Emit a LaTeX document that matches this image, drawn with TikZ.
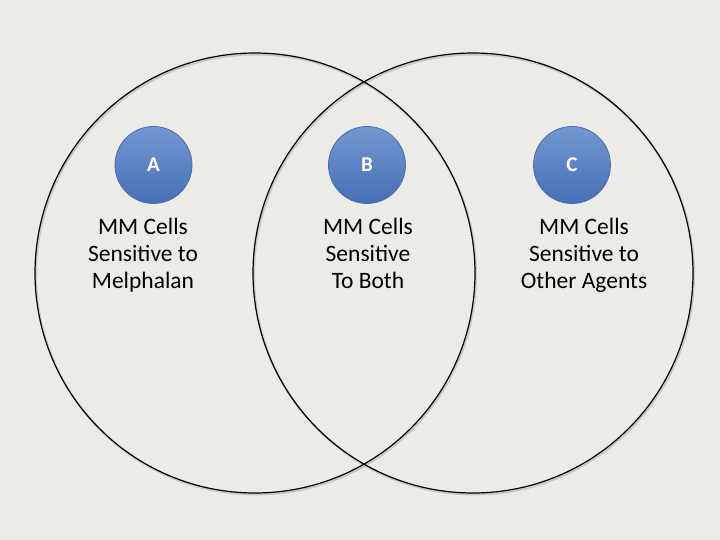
\documentclass[tikz,border=0pt]{standalone}
\usepackage{fontspec}
\setmainfont{Carlito}
\definecolor{bgc}{HTML}{EDEBE8}
\definecolor{ctop}{HTML}{7397D3}
\definecolor{cbot}{HTML}{476FB5}
\definecolor{cbord}{HTML}{4A6FAE}
\tikzset{
  big/.style={circle, draw=black, line width=1.2pt, minimum size=440pt, inner sep=0pt},
  bigshadow/.style={circle, draw=black!35, line width=2pt, minimum size=440pt, inner sep=0pt, opacity=0.5},
  dot/.style={circle, draw=cbord, line width=0.8pt, top color=ctop, bottom color=cbot, minimum size=77pt, inner sep=0pt, text=white, font=\fontsize{21}{24}\selectfont\bfseries},
  lbl/.style={align=center, inner sep=0pt, anchor=base, font=\fontsize{23.5}{27}\selectfont}
}
\begin{document}
\begin{tikzpicture}[x=1pt, y=-1pt]
\fill[bgc] (0,0) rectangle (720,540);
\useasboundingbox (0,0) rectangle (720,540);
\node[bigshadow] (ls) at (256,274.5) {};
\node[bigshadow] (rs) at (474,274.5) {};
\node[big] (L) at (255,273) {};
\node[big] (R) at (473,273) {};
\node[dot] (A) at (153.5,165) {A};
\node[dot] (B) at (367,165) {B};
\node[dot] (C) at (572,165) {C};
\node[lbl] (ta) at (143,288.5) {MM Cells\\Sensitive to\\Melphalan};
\node[lbl] (tb) at (368,288.5) {MM Cells\\Sensitive\\To Both};
\node[lbl] (tc) at (584,288.5) {MM Cells\\Sensitive to\\Other Agents};
\end{tikzpicture}
\end{document}
